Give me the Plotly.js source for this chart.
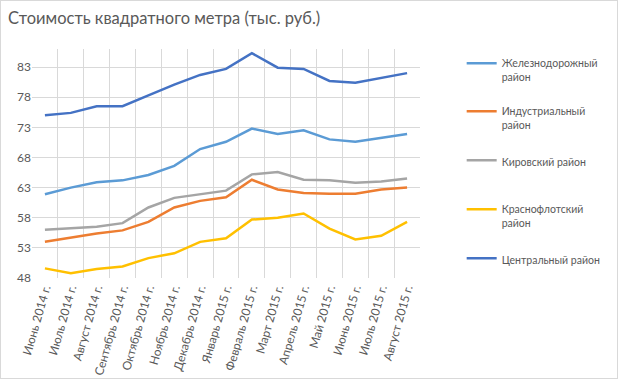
<!DOCTYPE html>
<html><head><meta charset="utf-8">
<script src="https://cdn.plot.ly/plotly-3.0.1.min.js"></script>
<style>body{margin:0;padding:0;background:#fff}#c{position:absolute;left:0;top:0;width:618px;height:379px}#b{position:absolute;left:0;top:0;width:616px;height:377px;border:1px solid #d9d9d9;pointer-events:none}</style>
</head><body><div id="c"></div><div id="b"></div>
<script>
const months = ['Июнь 2014 г.','Июль 2014 г.','Август 2014 г.','Сентябрь 2014 г.','Октябрь 2014 г.','Ноябрь 2014 г.','Декабрь 2014 г.','Январь 2015 г.','Февраль 2015 г.','Март 2015 г.','Апрель 2015 г.','Май 2015 г.','Июнь 2015 г.','Июль 2015 г.','Август 2015 г.'];
const zheleznodorozhny = [61.9,63.0,63.9,64.2,65.1,66.6,69.4,70.6,72.8,71.9,72.5,71.0,70.6,71.2,71.9];
const industrialny = [54.0,54.7,55.4,55.9,57.3,59.7,60.8,61.4,64.3,62.7,62.1,62.0,62.0,62.7,63.0];
const kirovsky = [56.0,56.2,56.5,57.1,59.7,61.3,61.9,62.5,65.2,65.6,64.3,64.2,63.8,64.0,64.5];
const krasnoflotsky = [49.6,48.8,49.5,49.9,51.3,52.1,54.0,54.6,57.7,58.0,58.7,56.2,54.4,55.0,57.3];
const centralny = [75.0,75.4,76.5,76.5,78.3,80.1,81.7,82.7,85.3,82.9,82.7,80.7,80.4,81.2,82.0];
const seriesNames = ['Железнодорожный<br>район','Индустриальный<br>район','Кировский район','Краснофлотский<br>район','Центральный район'];
const yTicks = [48,53,58,63,68,73,78,83];

const FONT = 'Lato, "Open Sans", sans-serif';
const colors = ['#5B9BD5','#ED7D31','#A5A5A5','#FFC000','#4472C4'];
const data = [zheleznodorozhny, industrialny, kirovsky, krasnoflotsky, centralny];
const legIds = ['legend','legend2','legend3','legend4','legend5'];
const traces = data.map((y,i)=>({
  x: months, y: y, type:'scatter', mode:'lines', name: seriesNames[i],
  line:{color:colors[i], width:2.5}, legend: legIds[i], hoverinfo:'none'
}));
const legPx = [50,98,147,196,245];
const layout = {
  width:618, height:379,
  margin:{l:32, r:195, t:49, b:101},
  paper_bgcolor:'rgba(0,0,0,0)', plot_bgcolor:'#fff',
  title:{text:'Стоимость квадратного метра (тыс. руб.)', x:8/618, xanchor:'left', xref:'container', y:1-18/379, yanchor:'middle', yref:'container', font:{family:FONT, size:16.5, color:'#595959'}},
  xaxis:{type:'category', tickson:'boundaries', showgrid:true, gridcolor:'#d9d9d9', gridwidth:1, ticks:'', tickangle:-74, tickfont:{family:FONT, size:12, color:'#595959'}, showline:false, zeroline:false, range:[-0.5,14.5], fixedrange:true},
  yaxis:{range:[48,86], tickvals:yTicks, showgrid:true, gridcolor:'#d9d9d9', gridwidth:1, ticks:'', tickfont:{family:FONT, size:12, color:'#595959'}, showline:false, zeroline:false, fixedrange:true},
  showlegend:true
};
legIds.forEach((id,i)=>{
  layout[id] = {x:(465-32)/391, xanchor:'left', y:(278-legPx[i])/229, yanchor:'top', bgcolor:'rgba(0,0,0,0)', borderwidth:0, font:{family:FONT, size:10.5, color:'#595959'}, valign:'top', itemwidth:30};
});
Plotly.newPlot('c', traces, layout, {displayModeBar:false, staticPlot:true});
</script></body></html>
